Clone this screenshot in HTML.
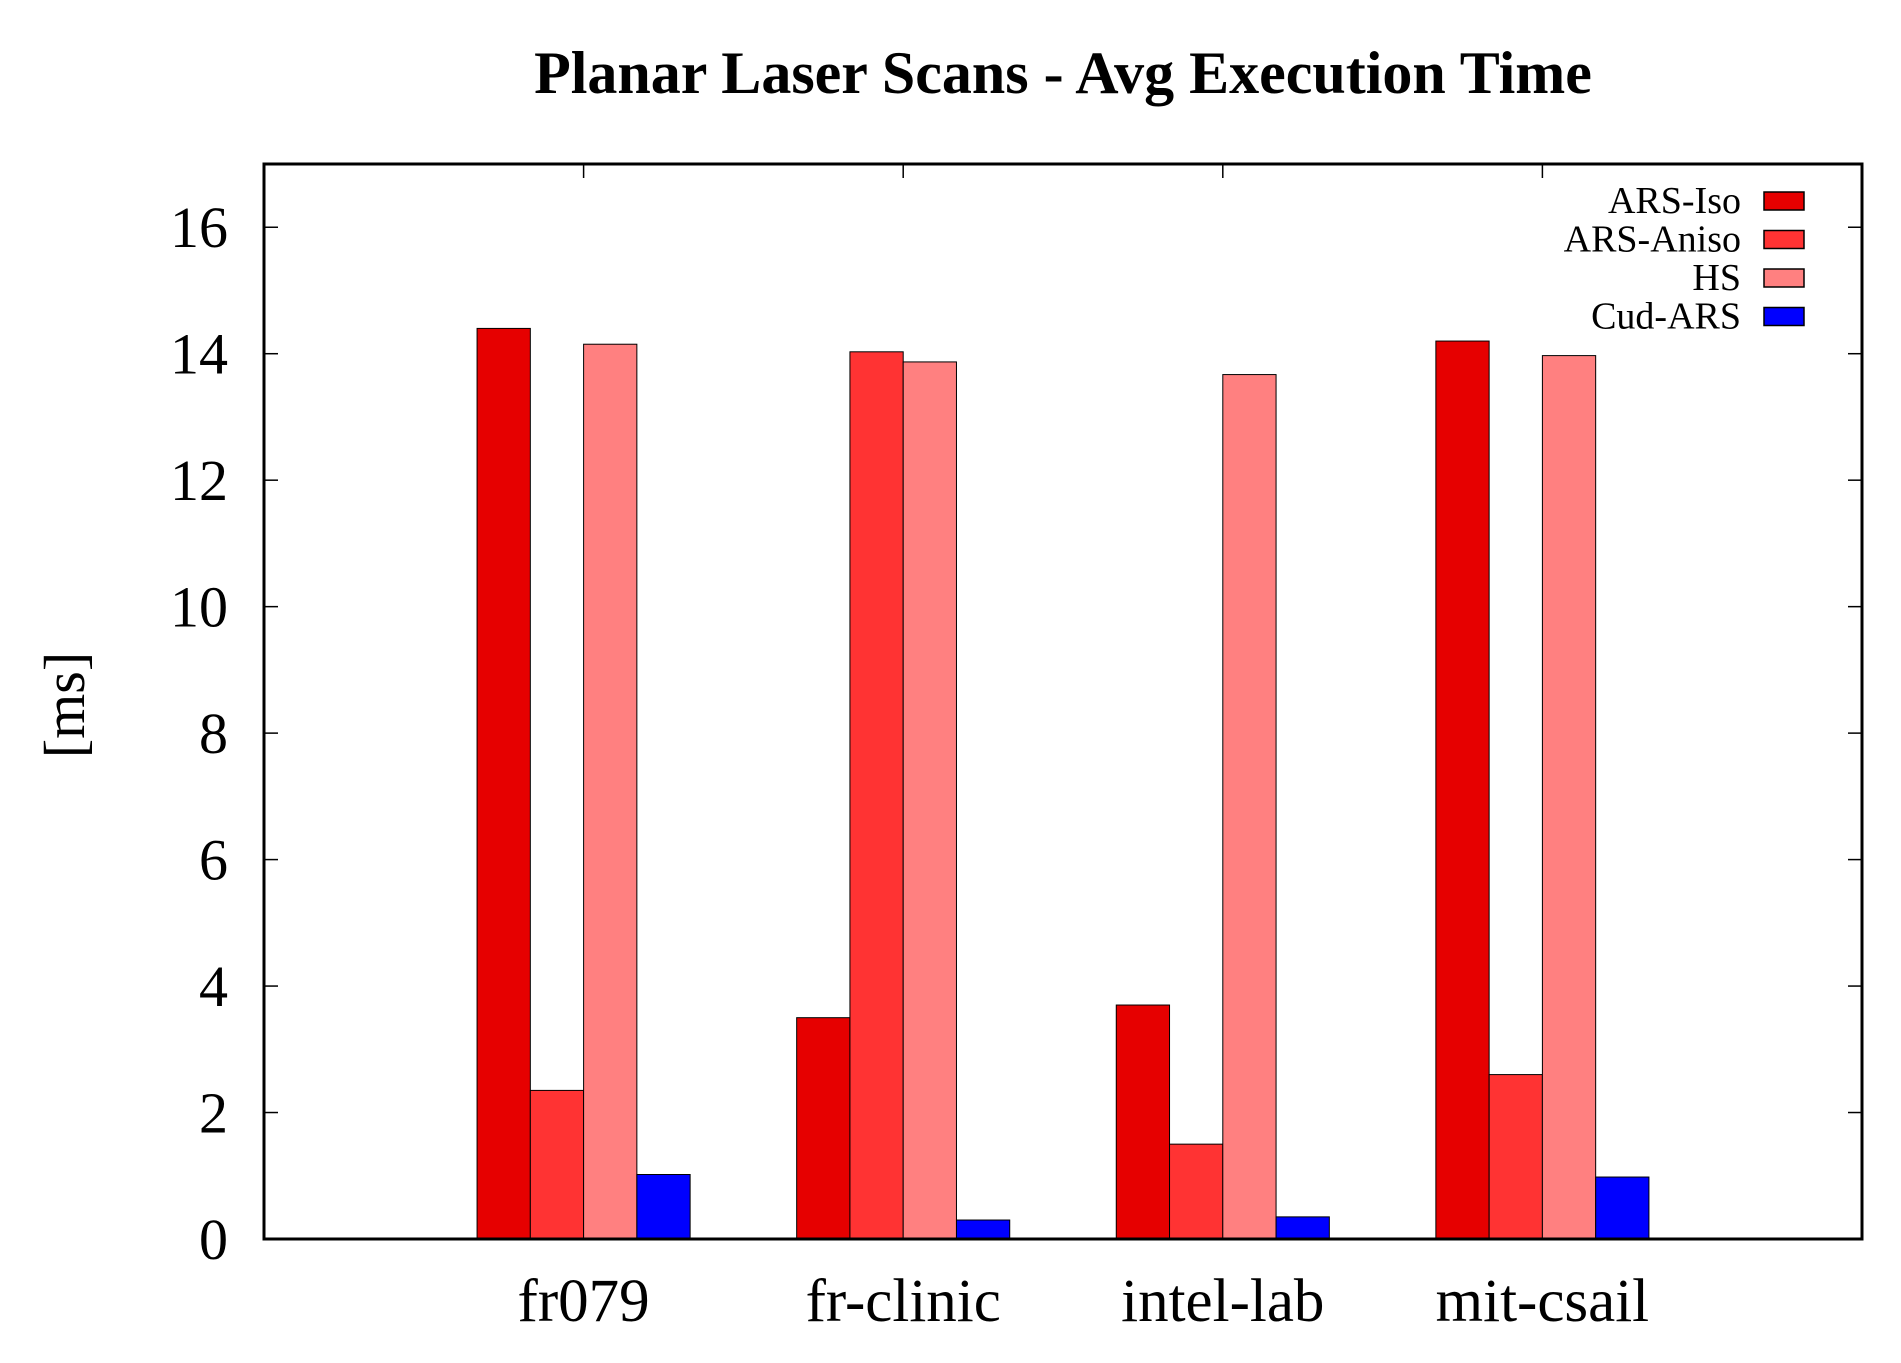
<!DOCTYPE html>
<html><head><meta charset="utf-8"><style>html,body{margin:0;padding:0;background:#fff}svg{display:block}text{font-family:"Liberation Serif",serif}</style></head>
<body>
<svg id="chart" width="1901" height="1363" viewBox="0 0 1901 1363" xmlns="http://www.w3.org/2000/svg">
<text x="1063" y="93" font-size="60" font-weight="bold" text-anchor="middle">Planar Laser Scans - Avg Execution Time</text>
<text transform="translate(84,705) rotate(-90)" font-size="58" text-anchor="middle">[ms]</text>
<g id="marks"></g>
<rect x="264" y="164" width="1598" height="1075" fill="none" stroke="#000" stroke-width="3"/>
<g id="axes"></g>
<g id="legend"></g>
</svg>
<script>
const categories = ["fr079", "fr-clinic", "intel-lab", "mit-csail"];
const seriesNames = ["ARS-Iso", "ARS-Aniso", "HS", "Cud-ARS"];
const arsIso = [14.4, 3.5, 3.7, 14.2];
const arsAniso = [2.35, 14.03, 1.5, 2.6];
const hs = [14.15, 13.87, 13.67, 13.97];
const cudArs = [1.02, 0.3, 0.35, 0.98];
const yTicks = [0, 2, 4, 6, 8, 10, 12, 14, 16];
const series = [arsIso, arsAniso, hs, cudArs];
const colors = ["#e60000", "#ff3333", "#ff8080", "#0000ff"];
const NS = "http://www.w3.org/2000/svg";
const L = 264, R = 1862, T = 164, B = 1239;
const xs = i => L + (i + 1) * (R - L) / 5;
const unit = (R - L) / 5;
const ys = v => B - v * (B - T) / 17;
function mk(tag, attrs, parent) { const e = document.createElementNS(NS, tag); for (const k in attrs) e.setAttribute(k, attrs[k]); parent.appendChild(e); return e; }
const marks = document.getElementById("marks"), axes = document.getElementById("axes"), legend = document.getElementById("legend");
const bw = unit / 6;
series.forEach((s, si) => {
  s.forEach((v, ci) => {
    const x = xs(ci) - 2 * bw + si * bw;
    const r = mk("rect", { x: x, y: ys(v), width: bw, height: ys(0) - ys(v), fill: colors[si], stroke: "#000", "stroke-width": 1 }, marks);
    
    
  });
});
yTicks.forEach(t => {
  const y = ys(t);
  const a = mk("line", { x1: L, x2: L + 14, y1: y, y2: y, stroke: "#000", "stroke-width": 1.5 }, axes);
  
  
  const b = mk("line", { x1: R, x2: R - 14, y1: y, y2: y, stroke: "#000", "stroke-width": 1.5 }, axes);
  
  
  const tx = mk("text", { x: 228, y: y + 20, "font-size": 58, "text-anchor": "end" }, axes);
  tx.textContent = t;
  
  
});
categories.forEach((c, i) => {
  const x = xs(i);
  const a = mk("line", { x1: x, x2: x, y1: T, y2: T + 14, stroke: "#000", "stroke-width": 1.5 }, axes);
  
  
  const tx = mk("text", { x: x, y: 1321, "font-size": 61, "text-anchor": "middle" }, axes);
  tx.textContent = c;
  
  
});
seriesNames.forEach((n, i) => {
  const y = 201 + i * 38.5;
  const tx = mk("text", { x: 1741, y: y + 12, "font-size": 38, "text-anchor": "end" }, legend);
  tx.textContent = n;
  
  
  const r = mk("rect", { x: 1764, y: y - 9, width: 40, height: 18, fill: colors[i], stroke: "#000", "stroke-width": 1.5 }, legend);
  
  
});
</script>
</body></html>
